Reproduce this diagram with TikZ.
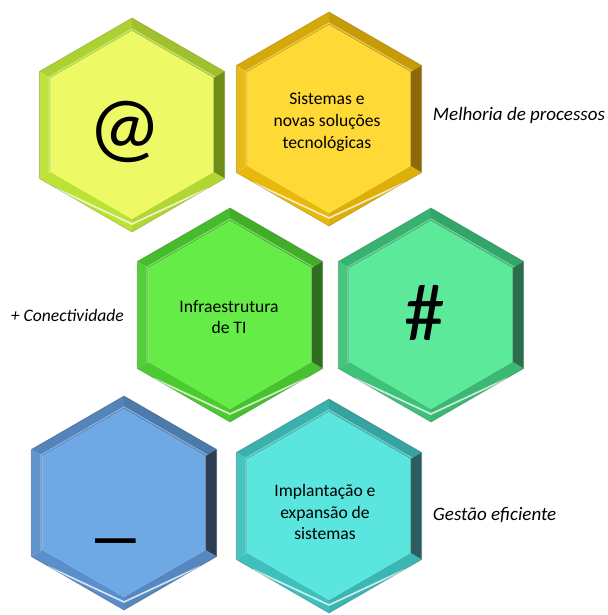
\documentclass[tikz,border=0pt]{standalone}
\usepackage{fontspec}
\setmainfont{Carlito}
\usetikzlibrary{positioning}

\definecolor{limeface}{HTML}{EDFA66}
\definecolor{limerim}{HTML}{BCE236}
\definecolor{limeside}{HTML}{6E8C16}
\definecolor{goldface}{HTML}{FFD936}
\definecolor{goldrim}{HTML}{E8B80A}
\definecolor{goldside}{HTML}{8C6A08}
\definecolor{greenface}{HTML}{66EC46}
\definecolor{greenrim}{HTML}{4CCB30}
\definecolor{greenside}{HTML}{2E6E1E}
\definecolor{mintface}{HTML}{5CE99A}
\definecolor{mintrim}{HTML}{3DC27A}
\definecolor{mintside}{HTML}{2A6E4C}
\definecolor{blueface}{HTML}{6EA9E6}
\definecolor{bluerim}{HTML}{5A8FCB}
\definecolor{blueside}{HTML}{2E3E52}
\definecolor{aquaface}{HTML}{5AE6DE}
\definecolor{aquarim}{HTML}{3EC0BC}
\definecolor{aquaside}{HTML}{2C5E60}

% one bevelled hexagon: x, y, colour prefix
\newcommand{\hexcell}[3]{%
  \begin{scope}[shift={(#1,#2)}]
    \fill[#3rim!92!black] (210:107) -- (270:107) -- (270:94) -- (210:94) -- cycle;
    \fill[#3rim!85!black] (270:107) -- (330:107) -- (330:94) -- (270:94) -- cycle;
    \fill[#3side] (330:107) -- (30:107) -- (30:94) -- (330:94) -- cycle;
    \fill[#3rim!95!black] (30:107) -- (90:107) -- (90:94) -- (30:94) -- cycle;
    \fill[#3rim] (90:107) -- (150:107) -- (150:94) -- (90:94) -- cycle;
    \fill[#3rim!95!white] (150:107) -- (210:107) -- (210:94) -- (150:94) -- cycle;
    \draw[white,opacity=.75,line width=1.2pt,line cap=round] (140:99) -- (90:99) -- (40:99);
    \draw[#3rim!60!white,opacity=.8,line width=.8pt] (150:96) -- (210:96) -- (270:96) -- (330:96);
    \draw[#3side,opacity=.35,line width=.6pt,line join=round] (30:107) -- (90:107) -- (150:107) -- (210:107) -- (270:107) -- (330:107) -- cycle;
    \fill[#3face] (30:94) -- (90:94) -- (150:94) -- (210:94) -- (270:94) -- (330:94) -- cycle;
  \end{scope}}

\tikzset{
  celltext/.style={align=center,text=black,font=\fontsize{12.5}{15.5}\selectfont},
  bigsign/.style={text=black,font=\fontsize{58}{58}\selectfont},
  sidetext/.style={text=black,font=\itshape\fontsize{13.5}{16}\selectfont}
}

\begin{document}
\begin{tikzpicture}[x=0.025cm,y=-0.025cm]
\useasboundingbox (0,0) rectangle (607,615);

\hexcell{132}{125}{lime}
\hexcell{329}{119}{gold}
\hexcell{230}{315}{green}
\hexcell{431}{315}{mint}
\hexcell{124}{503}{blue}
\hexcell{329}{506}{aqua}

\node[bigsign] (arroba) at (125,132) {@};
\node[celltext] (sistemas) at (327,122) {Sistemas e\\novas soluções\\tecnológicas};
\node[celltext] (infra) at (229,317) {Infraestrutura\\de TI};
\node[bigsign] (cerquilha) at (425,313) {\#};
\node[bigsign,anchor=base] (traco) at (116,532) {\_};
\node[celltext] (implantacao) at (325,512) {Implantação e\\expansão de\\sistemas};

\node[sidetext,anchor=west] (melhoria) at (428,115) {Melhoria de processos};
\node[sidetext,anchor=west,font=\itshape\fontsize{12.5}{15}\selectfont] (conect) at (6,315) {+ Conectividade};
\node[sidetext,anchor=west] (gestao) at (428,515) {Gestão eficiente};
\end{tikzpicture}
\end{document}
